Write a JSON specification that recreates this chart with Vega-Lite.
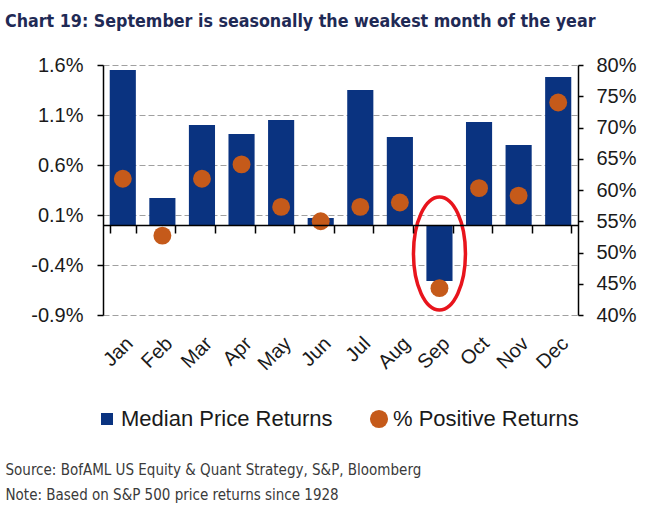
{
  "$schema": "https://vega.github.io/schema/vega-lite/v6.json",
  "description": "Chart 19: median S&P 500 price return and share of positive years, by month.",
  "width": 475,
  "height": 250,
  "autosize": {"type": "none"},
  "padding": {"left": 103, "top": 65, "right": 82, "bottom": 196},
  "background": "white",
  "config": {"view": {"stroke": null}, "font": "Liberation Sans"},
  "title": {
    "text": "Chart 19: September is seasonally the weakest month of the year",
    "anchor": "start",
    "frame": "group",
    "dx": -98,
    "offset": 10,
    "baseline": "alphabetic",
    "font": "DejaVu Sans Condensed, Liberation Sans Narrow, sans-serif",
    "fontSize": 17.7,
    "fontWeight": "bold",
    "color": "#1f2a55"
  },
  "data": {
    "values": [
      {"month": "Jan", "median": 1.55, "positive": 61.8},
      {"month": "Feb", "median": 0.27, "positive": 52.7},
      {"month": "Mar", "median": 1.0, "positive": 61.8},
      {"month": "Apr", "median": 0.91, "positive": 64.1},
      {"month": "May", "median": 1.05, "positive": 57.3},
      {"month": "Jun", "median": 0.07, "positive": 55.0},
      {"month": "Jul", "median": 1.35, "positive": 57.3},
      {"month": "Aug", "median": 0.88, "positive": 58.0},
      {"month": "Sep", "median": -0.56, "positive": 44.3},
      {"month": "Oct", "median": 1.03, "positive": 60.3},
      {"month": "Nov", "median": 0.8, "positive": 59.1},
      {"month": "Dec", "median": 1.48, "positive": 74.0}
    ]
  },
  "layer": [
    {
      "mark": {"type": "bar", "color": "#0a3380"},
      "encoding": {
        "x": {
          "field": "month",
          "type": "nominal",
          "sort": null,
          "scale": {
            "domain": ["Jan", "Feb", "Mar", "Apr", "May", "Jun", "Jul", "Aug", "Sep", "Oct", "Nov", "Dec"],
            "paddingInner": 0.34,
            "paddingOuter": 0.17
          },
          "axis": {
            "orient": "bottom",
            "labelAngle": -45,
            "domain": false,
            "ticks": false,
            "tickSize": 0,
            "grid": false,
            "labelPadding": 18,
            "labelFontSize": 20,
            "labelColor": "#1a1a1a",
            "title": ["Source: BofAML US Equity & Quant Strategy, S&P, Bloomberg", "Note: Based on S&P 500 price returns since 1928"],
            "titleFont": "DejaVu Sans Condensed, Liberation Sans Narrow, sans-serif",
            "titleFontSize": 15,
            "titleFontWeight": "normal",
            "titleColor": "#3a3a3a",
            "titleAlign": "left",
            "titleAnchor": "start",
            "titleBaseline": "top",
            "titleLineHeight": 25,
            "titleX": -98,
            "titleY": 147
          }
        },
        "y": {
          "field": "median",
          "type": "quantitative",
          "scale": {"domain": [-0.9, 1.6], "nice": false, "zero": false},
          "axis": {
            "values": [-0.9, -0.4, 0.1, 0.6, 1.1, 1.6],
            "labelExpr": "datum.value + '%'",
            "title": null,
            "domainColor": "black",
            "domainWidth": 1.5,
            "tickColor": "black",
            "tickSize": 6,
            "tickWidth": 1.5,
            "labelPadding": 14,
            "labelFontSize": 20,
            "labelColor": "#1a1a1a",
            "grid": true,
            "gridColor": "#a0a0a0",
            "gridDash": [6, 3],
            "gridWidth": 1
          }
        },
        "color": {
          "datum": "Median Price Returns",
          "type": "nominal",
          "scale": {
            "domain": ["Median Price Returns", "% Positive Returns"],
            "range": ["#0a3380", "#c55a1a"]
          },
          "legend": {
            "orient": "none",
            "legendX": -7,
            "legendY": 343,
            "direction": "horizontal",
            "title": null,
            "labelFont": "Liberation Sans",
            "labelFontSize": 22,
            "labelColor": "#1a1a1a",
            "labelLimit": 400,
            "labelOffset": 3,
            "columnPadding": 35,
            "symbolSize": 330,
            "symbolOpacity": 1,
            "symbolStrokeWidth": 0,
            "encode": {
              "symbols": {
                "update": {
                  "shape": {"signal": "datum.value == 'Median Price Returns' ? 'square' : 'circle'"},
                  "size": {"signal": "datum.value == 'Median Price Returns' ? 144 : 330"}
                }
              }
            }
          }
        }
      }
    },
    {
      "mark": {"type": "circle", "size": 320, "opacity": 1},
      "encoding": {
        "x": {
          "field": "month",
          "type": "nominal",
          "sort": null,
          "axis": {
            "orient": "top",
            "offset": -160,
            "zindex": 1,
            "labels": false,
            "domain": true,
            "domainColor": "black",
            "domainWidth": 1.5,
            "ticks": true,
            "tickBand": "extent",
            "tickSize": -8,
            "tickColor": "black",
            "tickWidth": 1.5,
            "grid": false,
            "title": null
          }
        },
        "y": {
          "field": "positive",
          "type": "quantitative",
          "scale": {"domain": [40, 80], "nice": false, "zero": false},
          "axis": {
            "orient": "right",
            "values": [40, 45, 50, 55, 60, 65, 70, 75, 80],
            "labelExpr": "datum.value + '%'",
            "title": null,
            "domainColor": "black",
            "domainWidth": 1.5,
            "tickColor": "black",
            "tickSize": 5,
            "tickWidth": 1.5,
            "labelPadding": 13,
            "labelFontSize": 20,
            "labelColor": "#1a1a1a",
            "grid": false
          }
        },
        "color": {"datum": "% Positive Returns", "type": "nominal"}
      }
    },
    {
      "transform": [{"filter": "datum.month == 'Sep'"}],
      "mark": {
        "type": "point",
        "shape": "M -0.46 0 A 0.46 1 0 1 1 0.46 0 A 0.46 1 0 1 1 -0.46 0 Z",
        "size": 12769,
        "filled": false,
        "stroke": "#e8141c",
        "strokeWidth": 3.5,
        "opacity": 1
      },
      "encoding": {
        "x": {"field": "month", "type": "nominal", "sort": null, "axis": null},
        "y": {
          "datum": -0.285,
          "type": "quantitative",
          "scale": {"domain": [-0.9, 1.6], "nice": false, "zero": false},
          "axis": null
        }
      }
    }
  ],
  "resolve": {"scale": {"y": "independent"}, "axis": {"x": "independent", "y": "independent"}}
}
